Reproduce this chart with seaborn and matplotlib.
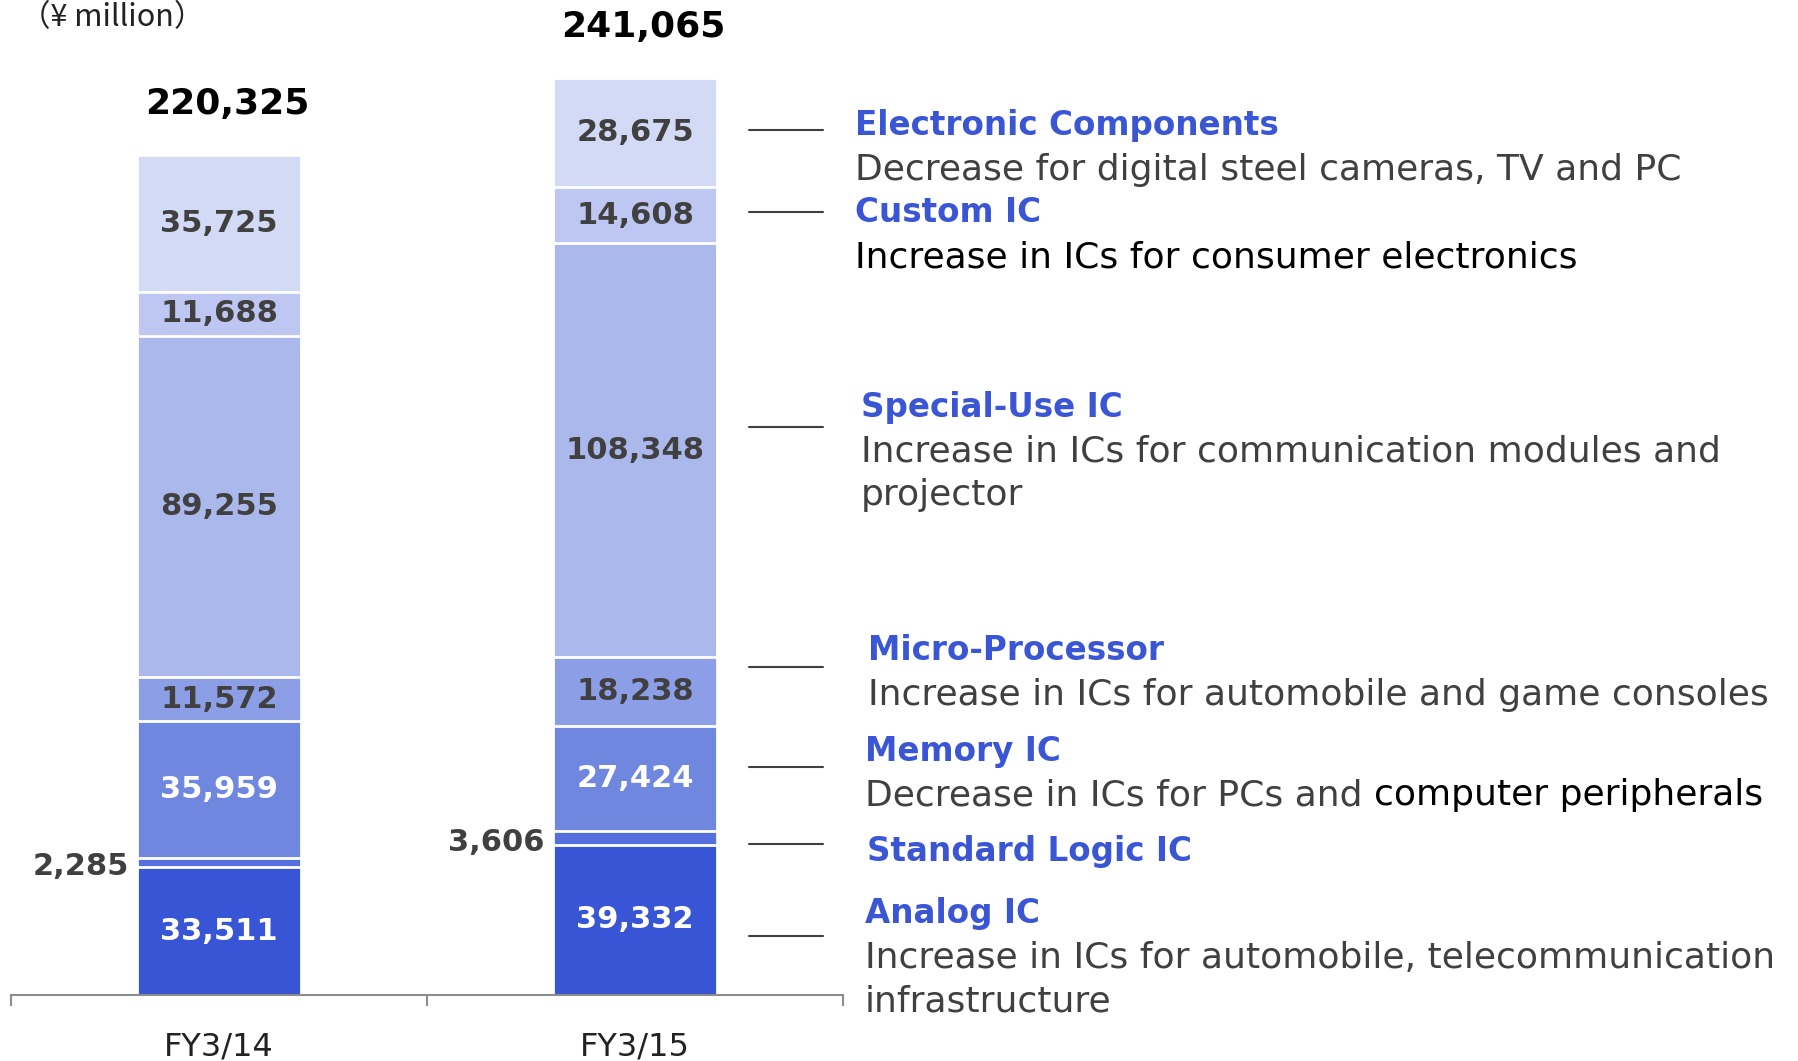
import numpy as np
import pandas as pd
import matplotlib.pyplot as plt
import seaborn as sns

# data (¥ million)
years = ["FY3/14", "FY3/15"]
segments = ["Analog IC", "Standard Logic IC", "Memory IC", "Micro-Processor",
            "Special-Use IC", "Custom IC", "Electronic Components"]
analog = [33511, 39332]
standard_logic = [2285, 3606]
memory = [35959, 27424]
micro_processor = [11572, 18238]
special_use = [89255, 108348]
custom = [11688, 14608]
electronic = [35725, 28675]
totals = [220325, 241065]

notes = [
    ["Increase in ICs for automobile, telecommunication", "infrastructure"],
    [],
    ["Decrease in ICs for PCs and "],
    ["Increase in ICs for automobile and game consoles"],
    ["Increase in ICs for communication modules and", "projector"],
    ["Increase in ICs for consumer electronics"],
    ["Decrease for digital steel cameras, TV and PC"],
]

# styles / layout
colors = ["#3755d4", "#5570dc", "#7087e0", "#8c9fe6", "#aab8ec", "#bdc7f1", "#d3daf6"]
text_colors = ["white", "#404040", "white", "#404040", "#404040", "#404040", "#404040"]
note_colors = ["#404040", None, "#404040", "#404040", "#404040", "black", "#404040"]
head_blue = "#3a56d4"
gray = "#404040"
W, H = 1798, 1061
# right-hand annotation layout in pixels: (line y, heading x, heading y)
ann_layout = [(936, 865, 914), (844, 867, 851), (767, 865, 751), (667, 868, 651),
              (427, 861, 407), (212, 855, 213), (130, 855, 126)]
line_gap = 44

df = pd.DataFrame({"year": years, "Analog IC": analog, "Standard Logic IC": standard_logic,
                   "Memory IC": memory, "Micro-Processor": micro_processor,
                   "Special-Use IC": special_use, "Custom IC": custom,
                   "Electronic Components": electronic})
cum = df[segments].cumsum(axis=1)

sns.set_style("white")
plt.rcParams["font.family"] = ["DejaVu Sans"]
fig = plt.figure(figsize=(W / 100, H / 100), dpi=100)
ax = fig.add_axes([11 / W, (H - 995) / H, (843 - 11) / W, 995 / H])

bar_w = 0.395
for i in range(len(segments) - 1, -1, -1):
    sns.barplot(x=df["year"], y=cum[segments[i]], color=colors[i], saturation=1,
                width=bar_w, edgecolor="white", linewidth=2, errorbar=None, ax=ax)

ax.set_xlim(-0.5, 1.5)
ax.set_ylim(0, 260670)
for s in ["left", "right", "top"]:
    ax.spines[s].set_visible(False)
ax.spines["bottom"].set_color("#8c8c8c")
ax.spines["bottom"].set_linewidth(1.5)
ax.set_yticks([])
ax.set_xlabel("")
ax.set_ylabel("")
ax.set_xticks([0, 1])
ax.set_xticklabels(years, fontsize=23, color="#222222")
ax.set_xticks([-0.5, 0.5, 1.5], minor=True)
ax.tick_params(axis="x", which="major", length=0, pad=26)
ax.tick_params(axis="x", which="minor", bottom=True, length=8, width=1.5,
               color="#8c8c8c", direction="out")

# segment labels
for j in range(len(years)):
    for i, seg in enumerate(segments):
        val = df[seg][j]
        mid = cum[seg][j] - val / 2
        if seg == "Standard Logic IC":
            ax.annotate(f"{val:,}", xy=(j - bar_w / 2, mid), xytext=(-6, -3),
                        textcoords="offset points", ha="right", va="center",
                        fontsize=22, fontweight="bold", color=gray)
        else:
            ax.text(j, mid, f"{val:,}", ha="center", va="center", fontsize=22,
                    fontweight="bold", color=text_colors[i])
    ax.annotate(f"{totals[j]:,}", xy=(j, cum[segments[-1]][j]), xytext=(6, 37),
                textcoords="offset points", ha="center", va="center",
                fontsize=26, fontweight="bold", color="black")

fig.text(20 / W, 1 - 18 / H, "（¥ million）", fontsize=22, color="#222222",
         ha="left", va="center", family=["Noto Sans CJK JP", "DejaVu Sans"])

# right-hand annotations
for i, seg in enumerate(segments):
    ly, hx, hy = ann_layout[i]
    fig.add_artist(plt.Line2D([749 / W, 823 / W], [1 - ly / H, 1 - ly / H],
                              color=gray, lw=1.5, transform=fig.transFigure))
    fig.text(hx / W, 1 - hy / H, seg, fontsize=23.5, fontweight="bold", color=head_blue,
             ha="left", va="center")
    for k, line in enumerate(notes[i]):
        t = fig.text(hx / W, 1 - (hy + line_gap * (k + 1)) / H, line, fontsize=26,
                     color=note_colors[i], ha="left", va="center")
        if seg == "Memory IC":
            t.set_va("baseline")
            t.set_y(1 - (hy + line_gap * (k + 1) + 10) / H)
            ax.annotate("computer peripherals", xy=(1, 0), xycoords=t, ha="left",
                        va="bottom", fontsize=26, color="black", annotation_clip=False)

fig.savefig("out.png", dpi=100)
